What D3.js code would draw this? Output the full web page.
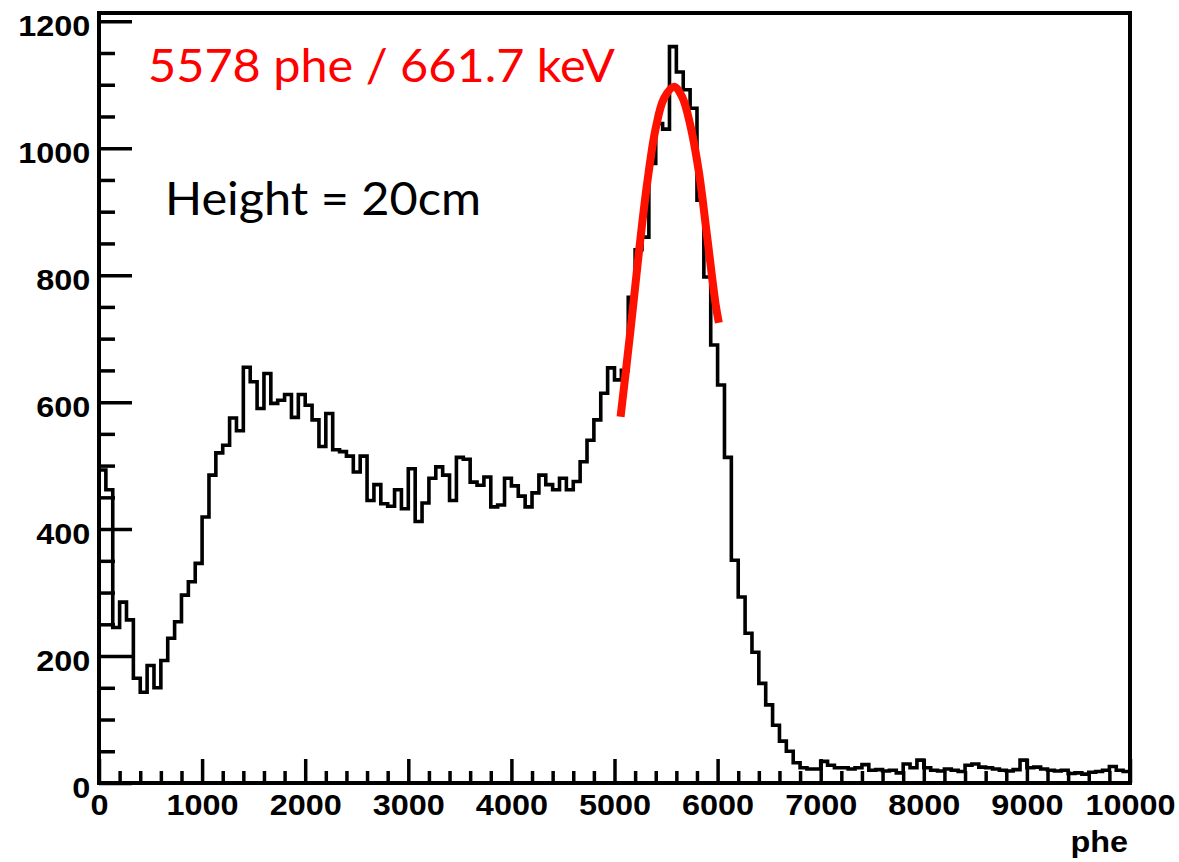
<!DOCTYPE html>
<html>
<head>
<meta charset="utf-8">
<script src="https://cdn.jsdelivr.net/npm/d3@7"></script>
<style>
  html, body { margin: 0; padding: 0; background: #ffffff; }
  svg { display: block; }
</style>
</head>
<body>
<svg id="chart" width="1179" height="862"></svg>
<script>
// Energy spectrum: 150 bins from 0 to 10000 phe
const xRange = [0, 10000];
const counts = [
  493, 462, 245, 285, 257, 165, 143, 185, 150, 193,
  228, 254, 296, 317, 346, 419, 485, 520, 532, 575,
  555, 655, 632, 590, 645, 598, 603, 612, 576, 612,
  595, 572, 530, 582, 525, 522, 515, 490, 515, 445,
  470, 440, 436, 462, 432, 495, 412, 441, 480, 498,
  485, 445, 513, 510, 474, 469, 482, 435, 438, 480,
  468, 452, 435, 457, 485, 470, 462, 480, 462, 475,
  506, 540, 572, 614, 654, 635, 650, 765, 840, 860,
  976, 1039, 1030, 1160, 1120, 1092, 1063, 918, 797, 690,
  627, 513, 351, 293, 236, 206, 157, 123, 91, 66,
  50, 32, 24, 22, 22, 34, 28, 24, 24, 22,
  24, 29, 20, 21, 19, 20, 16, 30, 24, 36,
  24, 20, 19, 22, 20, 18, 28, 30, 25, 24,
  22, 20, 19, 21, 36, 24, 25, 22, 20, 19,
  20, 15, 16, 14, 17, 18, 20, 26, 20, 18
];

// Gaussian photopeak fit, sampled along the drawn curve
const fitPhe = [5059, 5155, 5236, 5317, 5398, 5479, 5576, 5656, 5737, 5818, 5899, 5980, 6012];
const fitCounts = [577, 713, 835, 945, 1030, 1078, 1097, 1081, 1035, 963, 860, 755, 725];

const xTicks = [0, 1000, 2000, 3000, 4000, 5000, 6000, 7000, 8000, 9000, 10000];
const yTicks = [0, 200, 400, 600, 800, 1000, 1200];
const yMax = 1213;

const xTitle = "phe";
const peakLabel = "5578 phe / 661.7 keV";
const heightLabel = "Height = 20cm";

const svg = d3.select("#chart");
const plot = { left: 99, right: 1130, top: 13, bottom: 783 };

const x = d3.scaleLinear().domain(xRange).range([plot.left, plot.right]);
const y = d3.scaleLinear().domain([0, yMax]).range([plot.bottom, plot.top]);

svg.append("rect").attr("width", 1179).attr("height", 862).attr("fill", "#ffffff");

const axisFont = "'Liberation Sans', Arial, Helvetica, sans-serif";
const tickStroke = 3.5;

// minor ticks
const xMinor = d3.range(0, 10001, 200).filter(v => v % 1000 !== 0);
const yMinor = d3.range(0, 1201, 50).filter(v => v % 200 !== 0);

svg.append("g")
  .attr("transform", `translate(0,${plot.bottom})`)
  .call(d3.axisBottom(x).tickValues(xMinor).tickSize(-12).tickSizeOuter(0).tickFormat(""))
  .call(g => g.select(".domain").remove())
  .call(g => g.selectAll("line").attr("stroke", "#000").attr("stroke-width", tickStroke));

svg.append("g")
  .attr("transform", `translate(${plot.left},0)`)
  .call(d3.axisLeft(y).tickValues(yMinor).tickSize(-16).tickSizeOuter(0).tickFormat(""))
  .call(g => g.select(".domain").remove())
  .call(g => g.selectAll("line").attr("stroke", "#000").attr("stroke-width", tickStroke));

// major ticks and labels
const xAxis = svg.append("g")
  .attr("transform", `translate(0,${plot.bottom})`)
  .call(d3.axisBottom(x).tickValues(xTicks).tickSize(-24).tickSizeOuter(0).tickFormat(d3.format("d")));
xAxis.select(".domain").remove();
xAxis.selectAll("line").attr("stroke", "#000").attr("stroke-width", tickStroke);
xAxis.selectAll("text")
  .attr("y", 32).attr("dy", null)
  .attr("transform", "scale(1.08,1)")
  .attr("fill", "#000")
  .style("font-family", axisFont).style("font-weight", "bold").style("font-size", "30px");

const yAxis = svg.append("g")
  .attr("transform", `translate(${plot.left},0)`)
  .call(d3.axisLeft(y).tickValues(yTicks).tickSize(-33).tickSizeOuter(0).tickFormat(d3.format("d")));
yAxis.select(".domain").remove();
yAxis.selectAll("line").attr("stroke", "#000").attr("stroke-width", tickStroke);
yAxis.selectAll("text")
  .attr("x", -8).attr("y", 14).attr("dy", null)
  .attr("transform", "scale(1.08,1)")
  .attr("fill", "#000")
  .style("font-family", axisFont).style("font-weight", "bold").style("font-size", "30px");

// histogram outline
const binWidth = (xRange[1] - xRange[0]) / counts.length;
const stepPts = counts.map((c, i) => [xRange[0] + i * binWidth, c]);
stepPts.push([xRange[1], counts[counts.length - 1]]);

svg.append("path")
  .datum(stepPts)
  .attr("fill", "none")
  .attr("stroke", "#000")
  .attr("stroke-width", 3.6)
  .attr("stroke-linejoin", "miter")
  .attr("d", d3.line().x(d => x(d[0])).y(d => y(d[1])).curve(d3.curveStepAfter));

// frame
svg.append("rect")
  .attr("x", plot.left).attr("y", plot.top)
  .attr("width", plot.right - plot.left).attr("height", plot.bottom - plot.top)
  .attr("fill", "none").attr("stroke", "#000").attr("stroke-width", 4);

// fit curve
svg.append("path")
  .datum(fitPhe.map((p, i) => [p, fitCounts[i]]))
  .attr("fill", "none")
  .attr("stroke", "#ff1100")
  .attr("stroke-width", 8)
  .attr("stroke-linecap", "butt")
  .attr("d", d3.line().x(d => x(d[0])).y(d => y(d[1])).curve(d3.curveCatmullRom));

// axis title
svg.append("text")
  .attr("transform", "translate(1128,852) scale(1.08,1)")
  .attr("text-anchor", "end")
  .attr("fill", "#000")
  .style("font-family", axisFont).style("font-weight", "bold").style("font-size", "30px")
  .text(xTitle);

// annotations
svg.append("text")
  .attr("x", 148).attr("y", 82)
  .attr("textLength", 467).attr("lengthAdjust", "spacingAndGlyphs")
  .attr("fill", "#ff0000")
  .style("font-family", "Lato, 'Open Sans', sans-serif").style("font-size", "47px")
  .text(peakLabel);

svg.append("text")
  .attr("x", 165).attr("y", 215)
  .attr("textLength", 316).attr("lengthAdjust", "spacingAndGlyphs")
  .attr("fill", "#000")
  .style("font-family", "Lato, 'Open Sans', sans-serif").style("font-size", "47px")
  .text(heightLabel);
</script>
</body>
</html>
